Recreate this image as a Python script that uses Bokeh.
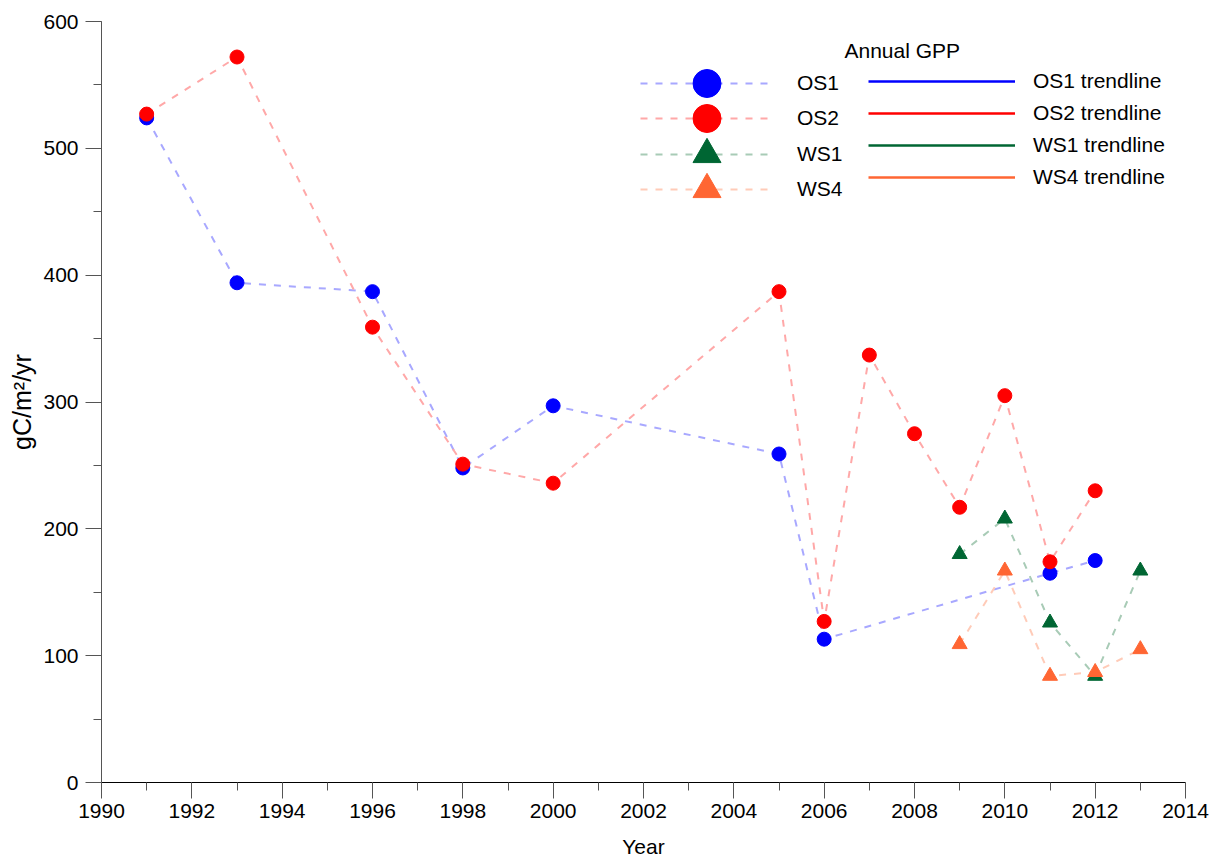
from bokeh.plotting import figure
from bokeh.models import Range1d, SingleIntervalTicker, Legend, LegendItem, Label
from bokeh.embed import file_html
from bokeh.resources import INLINE

# ---- data ----
os1_years = [1991, 1993, 1996, 1998, 2000, 2005, 2006, 2011, 2012]
os1_gpp = [524, 394, 387, 248, 297, 259, 113, 165, 175]

os2_years = [1991, 1993, 1996, 1998, 2000, 2005, 2006, 2007, 2008, 2009, 2010, 2011, 2012]
os2_gpp = [527, 572, 359, 251, 236, 387, 127, 337, 275, 217, 305, 174, 230]

ws1_years = [2009, 2010, 2011, 2012, 2013]
ws1_gpp = [180, 208, 126, 84, 167]

ws4_years = [2009, 2010, 2011, 2012, 2013]
ws4_gpp = [109, 167, 84, 87, 105]

series_names = ["OS1", "OS2", "WS1", "WS4"]
trend_names = ["OS1 trendline", "OS2 trendline", "WS1 trendline", "WS4 trendline"]
legend_title = "Annual GPP"

FONT = "Liberation Sans"
C_OS1, C_OS2, C_WS1, C_WS4 = "#0000FF", "#FF0000", "#006633", "#FF6633"
L_OS1, L_OS2, L_WS1, L_WS4 = "#A8A8FF", "#FFA8A8", "#A8CBB6", "#FFCBB8"

p = figure(width=1220, height=861, output_backend="svg", toolbar_location=None,
           x_range=Range1d(1990, 2014), y_range=Range1d(0, 600),
           min_border_left=101, min_border_right=35, min_border_top=21, min_border_bottom=79)
p.outline_line_color = None
p.xgrid.visible = False
p.ygrid.visible = False

p.xaxis.ticker = SingleIntervalTicker(interval=2, num_minor_ticks=2)
p.yaxis.ticker = SingleIntervalTicker(interval=100, num_minor_ticks=2)
for ax in (p.xaxis[0], p.yaxis[0]):
    ax.major_tick_out = 16
    ax.major_tick_in = 0
    ax.minor_tick_out = 8
    ax.minor_tick_in = 0
    ax.major_tick_line_color = "#555555"
    ax.minor_tick_line_color = "#555555"
    ax.major_label_text_font = FONT
    ax.major_label_text_font_size = "21px"
    ax.major_label_text_color = "black"
    ax.axis_label_text_font = FONT
    ax.axis_label_text_font_style = "normal"
    ax.axis_label_text_color = "black"
p.xaxis.axis_line_color = "black"
p.yaxis.axis_line_color = "#555555"
p.xaxis.axis_label = "Year"
p.yaxis.axis_label = "gC/m\u00b2/yr"
p.xaxis.axis_label_text_font_size = "21px"
p.yaxis.axis_label_text_font_size = "25px"
p.xaxis.major_label_standoff = 5
p.yaxis.major_label_standoff = 7
p.xaxis.axis_label_standoff = 14
p.yaxis.axis_label_standoff = 4

DASH = "7 8"

def series(xs, ys, line_c, mark_c, marker, size):
    lr = p.line(xs, ys, line_color=line_c, line_width=2, line_dash=DASH)
    sr = p.scatter(xs, ys, marker=marker, size=size, fill_color=mark_c, line_color=mark_c)
    return [lr, sr]

r_os1 = series(os1_years, os1_gpp, L_OS1, C_OS1, "circle", 14)
r_os2 = series(os2_years, os2_gpp, L_OS2, C_OS2, "circle", 14)
r_ws1 = series(ws1_years, ws1_gpp, L_WS1, C_WS1, "triangle", 15)
r_ws4 = series(ws4_years, ws4_gpp, L_WS4, C_WS4, "triangle", 15)

# trendline renderers (not visible in the plot area, shown only in legend)
t_rends = []
for (xs, ys), c in zip([(os1_years, os1_gpp), (os2_years, os2_gpp), (ws1_years, ws1_gpp), (ws4_years, ws4_gpp)],
                       (C_OS1, C_OS2, C_WS1, C_WS4)):
    t_rends.append(p.line(xs, ys, line_color=c, line_width=2.5, visible=False))

# left legend column: one single-row legend per item so markers can be large
row_offsets = [664, 629, 593, 558]
for name, rs, vy in zip(series_names, [r_os1, r_os2, r_ws1, r_ws4], row_offsets):
    lg = Legend(items=[LegendItem(label=name, renderers=rs)],
                location=(539, vy), padding=0, margin=0, spacing=0,
                glyph_width=133, glyph_height=70, label_standoff=24,
                label_text_font=FONT, label_text_font_size="21px", label_text_color="black",
                border_line_alpha=0, background_fill_alpha=0)
    p.add_layout(lg)

leg2 = Legend(items=[LegendItem(label=n, renderers=[r]) for n, r in zip(trend_names, t_rends)],
              location=(767, 589), padding=0, margin=0, spacing=0,
              glyph_width=147, glyph_height=32, label_standoff=18,
              label_text_font=FONT, label_text_font_size="21px", label_text_color="black",
              inactive_fill_alpha=0,
              border_line_alpha=0, background_fill_alpha=0)
p.add_layout(leg2)

p.add_layout(Label(x=743, y=732, x_units="screen", y_units="screen", text=legend_title,
                   text_font=FONT, text_font_size="21px", text_color="black",
                   text_baseline="middle", text_align="left"))

open("out.html", "w").write(file_html(p, INLINE))
